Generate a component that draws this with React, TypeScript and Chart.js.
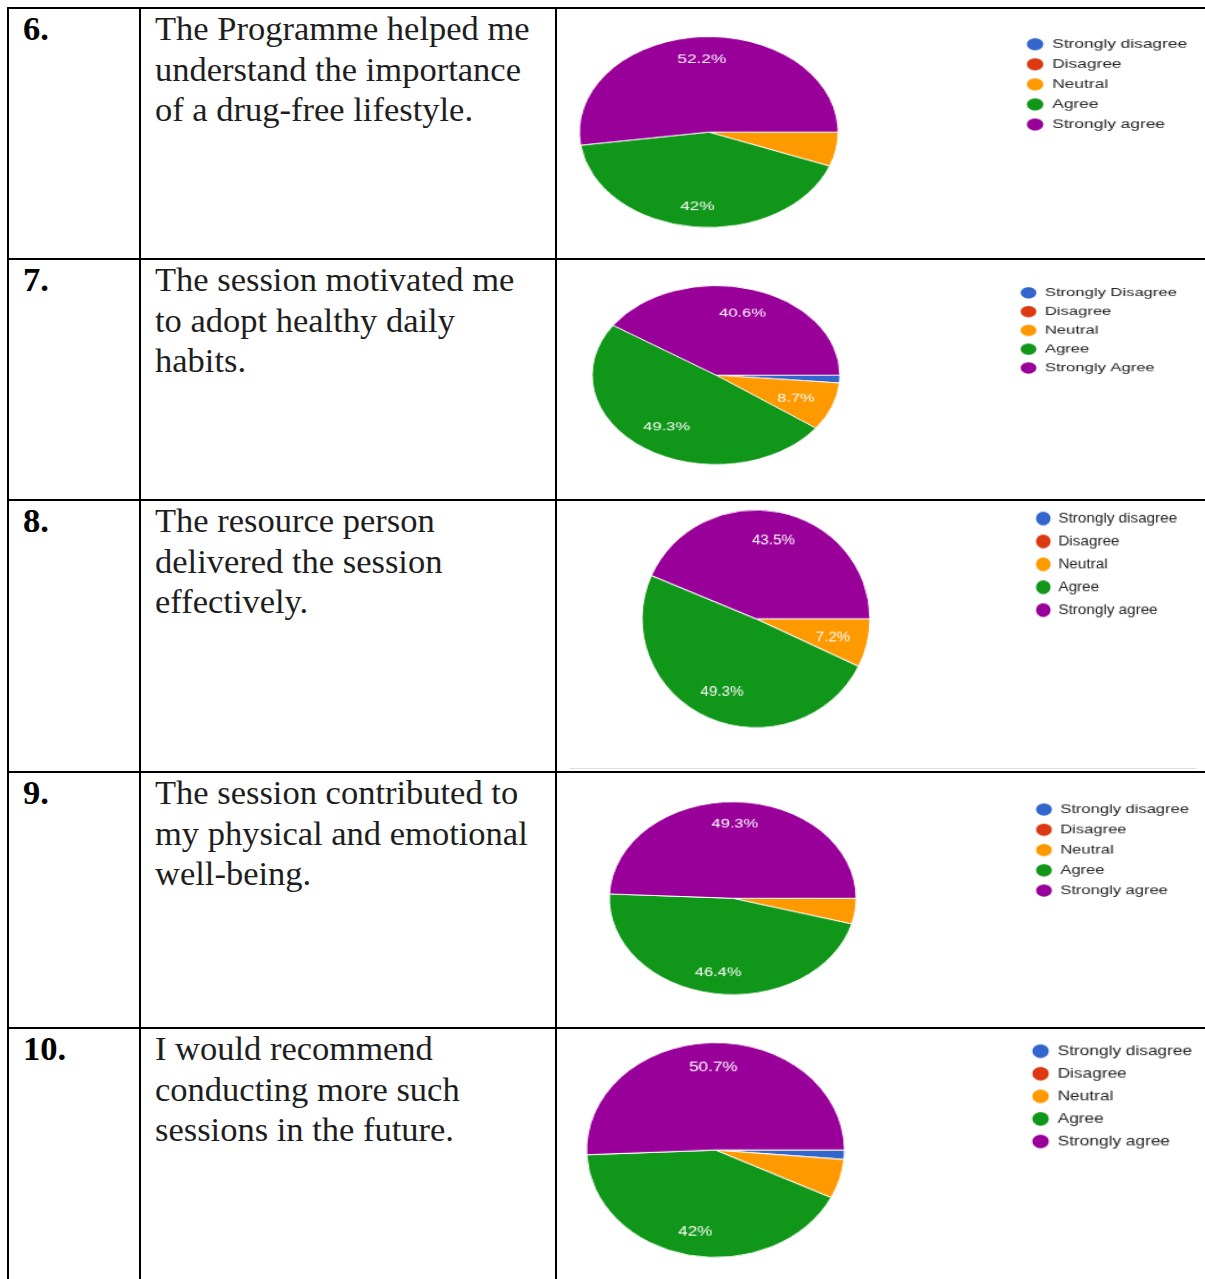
import React, { useEffect, useRef } from "react";
import { Chart, registerables } from "chart.js";

Chart.register(...registerables);

// ---------- DATA ----------
const sliceColors = ["#3366cc", "#dc3912", "#ff9900", "#109618", "#990099"];
const answerLabels = ["Strongly disagree", "Disagree", "Neutral", "Agree", "Strongly agree"];
const answerLabelsCaps = ["Strongly Disagree", "Disagree", "Neutral", "Agree", "Strongly Agree"];

const q6Values = [0, 0, 5.8, 42, 52.2];
const q7Values = [1.4, 0, 8.7, 49.3, 40.6];
const q8Values = [0, 0, 7.2, 49.3, 43.5];
const q9Values = [0, 0, 4.3, 46.4, 49.3];
const q10Values = [1.4, 0, 5.9, 42, 50.7];

const itemNumbers = ["6.", "7.", "8.", "9.", "10."];
const q6Text = ["The Programme helped me", "understand the importance", "of a drug-free lifestyle."];
const q7Text = ["The session motivated me", "to adopt healthy daily", "habits."];
const q8Text = ["The resource person", "delivered the session", "effectively."];
const q9Text = ["The session contributed to", "my physical and emotional", "well-being."];
const q10Text = ["I would recommend", "conducting more such", "sessions in the future."];

const LABEL_MIN = 7; // slices below this share carry no text

// ---------- LAYOUT ----------
const PAGE_W = 1205;
const PAGE_H = 1279;
const rowTops = [8, 259, 500, 772, 1028];
const colX = [8, 140, 556];
const CHART_COL_LEFT = 557;

// screen geometry of each (stretched) pie: centre and radii
const pieGeom = [
  { cx: 708.5, cy: 132.5, rx: 129.5, ry: 95.5 },
  { cx: 716, cy: 375.5, rx: 124, ry: 89.5 },
  { cx: 756, cy: 619, rx: 114, ry: 109 },
  { cx: 732.5, cy: 898.5, rx: 123.5, ry: 96.5 },
  { cx: 715, cy: 1150.5, rx: 129, ry: 107.5 },
];

// native (unstretched) chart geometry
const NR = 100; // pie radius
const FONT = 13.4;
const PAD = 7.6;
const BOXW = 13;
const BOXH = 9;
const LEG_DX = 252; // legend circle centre offset from pie centre
const LEG_DY = 92; // first legend row centre above pie centre
const CW = 640;
const PT = 10;
const PB = 10;
const CXN = 250;
const LEGEND_LEFT = CXN + LEG_DX - PAD - BOXW / 2;
const PL = CXN - (LEGEND_LEFT - CXN);
const AREA_H = 2 * (PAD + FONT / 2 + LEG_DY);
const CH = Math.ceil(PT + AREA_H + PB);
const PB_REAL = CH - PT - AREA_H;
const CYN = PT + AREA_H / 2;
const LEGEND_FONT = "'Liberation Sans', Arial, sans-serif";
const SLICE_FONT = 13.3;
const LABEL_REACH = 0.855; // outer corner of slice text sits at this share of the radius
const LABEL_DROP = 1.5;

const sliceLabelPlugin = {
  id: "sliceLabels",
  afterDatasetsDraw(chart: any) {
    const meta = chart.getDatasetMeta(0);
    const data = chart.data.datasets[0].data as number[];
    const ctx = chart.ctx;
    ctx.save();
    ctx.fillStyle = "#ffffff";
    ctx.font = `${SLICE_FONT}px ${LEGEND_FONT}`;
    ctx.textAlign = "center";
    ctx.textBaseline = "middle";
    meta.data.forEach((arc: any, i: number) => {
      const v = data[i];
      if (v < LABEL_MIN) return;
      const p = arc.getProps(["x", "y", "startAngle", "endAngle", "outerRadius"], true);
      const mid = (p.startAngle + p.endAngle) / 2;
      const txt = `${v}%`;
      const hw = ctx.measureText(txt).width / 2;
      const hh = SLICE_FONT / 2;
      const c = Math.cos(mid);
      const s = Math.sin(mid);
      const d = p.outerRadius * LABEL_REACH - Math.abs(c) * hw - Math.abs(s) * hh;
      ctx.fillText(txt, p.x + c * d, p.y + s * d + LABEL_DROP);
    });
    ctx.restore();
  },
};

function measureLegend(labels: string[]) {
  const c = document.createElement("canvas");
  const ctx = c.getContext("2d")!;
  ctx.font = `normal ${FONT}px ${LEGEND_FONT}`;
  let w = 0;
  labels.forEach((l) => (w = Math.max(w, ctx.measureText(l).width)));
  return PAD + BOXW + FONT / 2 + w + 10;
}

function PieCell({ values, labels, row }: { values: number[]; labels: string[]; row: number }) {
  const ref = useRef<HTMLCanvasElement | null>(null);
  const g = pieGeom[row];
  const sx = g.rx / NR;
  const sy = g.ry / NR;
  const top = rowTops[row] + 1;
  const bottom = row + 1 < rowTops.length ? rowTops[row + 1] - 1 : PAGE_H;

  useEffect(() => {
    if (!ref.current) return;
    const legendW = measureLegend(labels);
    const PR = Math.max(0, CW - LEGEND_LEFT - legendW);
    const baseGen = (Chart as any).overrides.pie.plugins.legend.labels.generateLabels;
    const chart = new Chart(ref.current, {
      type: "pie",
      data: {
        labels,
        datasets: [
          {
            data: values,
            backgroundColor: sliceColors,
            borderColor: "#ffffff",
            borderWidth: 1,
            radius: NR,
          } as any,
        ],
      },
      options: {
        animation: false,
        responsive: false,
        devicePixelRatio: 1,
        rotation: 90,
        layout: { padding: { left: PL, top: PT, right: PR, bottom: PB_REAL } },
        plugins: {
          legend: {
            position: "right",
            align: "start",
            labels: {
              usePointStyle: true,
              pointStyle: "circle",
              boxWidth: BOXW,
              boxHeight: BOXH,
              padding: PAD,
              color: "#222222",
              font: { family: LEGEND_FONT, size: FONT },
              generateLabels: (ch: any) =>
                baseGen(ch).map((it: any) => ({ ...it, lineWidth: 0, strokeStyle: it.fillStyle })),
            },
          },
          tooltip: { enabled: false },
        },
      } as any,
      plugins: [sliceLabelPlugin],
    });
    return () => chart.destroy();
  }, []);

  return (
    <div
      style={{
        position: "absolute",
        left: CHART_COL_LEFT,
        top,
        width: PAGE_W - CHART_COL_LEFT,
        height: bottom - top,
        overflow: "hidden",
      }}
    >
      <div
        style={{
          position: "absolute",
          left: g.cx - CXN * sx - CHART_COL_LEFT,
          top: g.cy - CYN * sy - top,
          width: CW,
          height: CH,
          transform: `scale(${sx}, ${sy})`,
          transformOrigin: "0 0",
        }}
      >
        <canvas ref={ref} width={CW} height={CH} style={{ width: CW, height: CH, display: "block" }} />
      </div>
    </div>
  );
}

const rowsData = [
  { values: q6Values, labels: answerLabels, text: q6Text },
  { values: q7Values, labels: answerLabelsCaps, text: q7Text },
  { values: q8Values, labels: answerLabels, text: q8Text },
  { values: q9Values, labels: answerLabels, text: q9Text },
  { values: q10Values, labels: answerLabels, text: q10Text },
];

const TEXT_FONT = "'Liberation Serif', 'Times New Roman', serif";

export default function App() {
  const lines: React.ReactNode[] = [];
  rowTops.forEach((y, i) =>
    lines.push(
      <div key={"h" + i} style={{ position: "absolute", left: 8, top: y - 1, width: PAGE_W - 8, height: 2, background: "#000" }} />
    )
  );
  colX.forEach((x, i) =>
    lines.push(
      <div key={"v" + i} style={{ position: "absolute", left: x - 1, top: 7, width: 2, height: PAGE_H - 7, background: "#000" }} />
    )
  );
  return (
    <div
      style={{
        position: "absolute",
        left: 0,
        top: 0,
        width: PAGE_W,
        height: PAGE_H,
        overflow: "hidden",
        background: "#fff",
      }}
    >
      {rowsData.map((r, i) => (
        <PieCell key={"p" + i} values={r.values} labels={r.labels} row={i} />
      ))}
      <div style={{ position: "absolute", left: 570, top: 768, width: 626, height: 1, background: "#dddddd" }} />
      {lines}
      {rowsData.map((r, i) => (
        <React.Fragment key={"t" + i}>
          <div
            style={{
              position: "absolute",
              left: 23,
              top: rowTops[i],
              fontFamily: TEXT_FONT,
              fontWeight: "bold",
              fontSize: 34.5,
              lineHeight: "40.5px",
              color: "#000",
            }}
          >
            {itemNumbers[i]}
          </div>
          <div
            style={{
              position: "absolute",
              left: 155,
              top: rowTops[i],
              fontFamily: TEXT_FONT,
              fontSize: 34.5,
              lineHeight: "40.5px",
              color: "#1e1e1e",
              whiteSpace: "nowrap",
            }}
          >
            {r.text.map((t, k) => (
              <div key={k}>{t}</div>
            ))}
          </div>
        </React.Fragment>
      ))}
    </div>
  );
}
